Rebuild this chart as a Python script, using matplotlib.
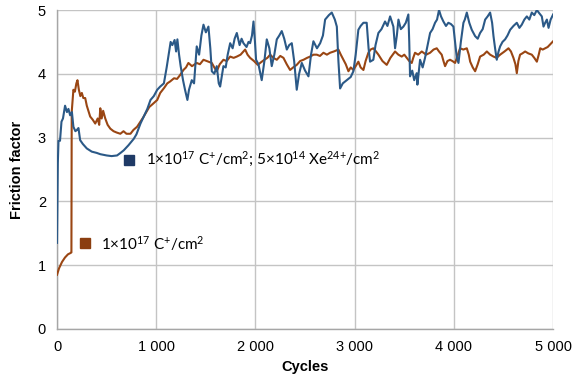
import matplotlib.pyplot as plt

plt.rcParams["font.family"] = ["Liberation Sans", "DejaVu Sans"]
plt.rcParams["mathtext.fontset"] = "custom"
plt.rcParams["mathtext.rm"] = "Lato"
plt.rcParams["mathtext.default"] = "regular"

# blue series: C+ and Xe24+ irradiation
xe_x = [0, 8, 15, 30, 45, 60, 81, 100, 115, 132, 150, 165, 185, 200, 216, 233, 260, 300, 350, 400,
        436, 500, 550, 605, 640, 672, 720, 773, 800, 841, 880, 910, 942, 975, 1010, 1040, 1077, 1105,
        1128, 1145, 1162, 1185, 1200, 1213, 1230, 1246, 1270, 1290, 1314, 1330, 1358, 1381, 1408, 1432,
        1455, 1476, 1500, 1526, 1545, 1560, 1585, 1610, 1630, 1644, 1660, 1677, 1700, 1720, 1745, 1770,
        1790, 1812, 1840, 1860, 1879, 1910, 1930, 1946, 1965, 1980, 1995, 2006, 2030, 2063, 2090, 2114,
        2140, 2164, 2190, 2215, 2240, 2265, 2290, 2316, 2340, 2366, 2390, 2416, 2440, 2467, 2500, 2534,
        2560, 2584, 2620, 2652, 2680, 2702, 2740, 2769, 2800, 2820, 2836, 2853, 2880, 2920, 2960, 2987,
        3010, 3037, 3060, 3088, 3121, 3140, 3155, 3188, 3210, 3239, 3270, 3306, 3330, 3357, 3390, 3407,
        3425, 3441, 3465, 3491, 3515, 3541, 3550, 3558, 3580, 3600, 3625, 3632, 3659, 3685, 3709, 3735,
        3760, 3785, 3810, 3830, 3850, 3870, 3894, 3920, 3944, 3970, 3995, 4012, 4029, 4046, 4070, 4096,
        4110, 4130, 4155, 4180, 4214, 4240, 4264, 4290, 4315, 4340, 4365, 4385, 4399, 4415, 4432, 4450,
        4466, 4490, 4516, 4540, 4567, 4600, 4634, 4660, 4684, 4710, 4735, 4760, 4785, 4810, 4836, 4860,
        4886, 4903, 4920, 4937, 4954, 4975, 5000]
xe_y = [1.35, 2.6, 2.95, 2.95, 3.25, 3.3, 3.5, 3.4, 3.45, 3.35, 3.4, 3.17, 3.1, 3.12, 3.15, 2.96, 2.9,
        2.83, 2.78, 2.76, 2.74, 2.72, 2.71, 2.72, 2.76, 2.8, 2.88, 2.98, 3.05, 3.22, 3.35, 3.45, 3.59,
        3.65, 3.75, 3.8, 3.85, 4.1, 4.33, 4.5, 4.45, 4.53, 4.35, 4.54, 4.3, 4.12, 3.9, 3.75, 3.59, 3.75,
        3.9, 3.85, 4.43, 4.3, 4.6, 4.77, 4.65, 4.74, 4.4, 4.04, 4.0, 4.12, 3.85, 3.8, 3.95, 4.12, 4.1,
        4.3, 4.48, 4.4, 4.55, 4.64, 4.45, 4.55, 4.48, 4.42, 4.5, 4.48, 4.6, 4.82, 4.5, 4.22, 4.15, 3.9,
        4.2, 4.54, 4.4, 4.12, 4.3, 4.54, 4.6, 4.67, 4.55, 4.38, 4.45, 4.48, 4.2, 3.75, 4.0, 4.17, 4.05,
        3.96, 4.3, 4.51, 4.4, 4.48, 4.6, 4.85, 4.92, 4.96, 4.85, 4.74, 4.2, 3.77, 3.85, 3.9, 3.95, 4.04,
        4.3, 4.69, 4.75, 4.8, 4.8, 4.4, 4.19, 4.22, 4.45, 4.64, 4.7, 4.82, 4.75, 4.9, 4.74, 4.4, 4.6,
        4.85, 4.7, 4.74, 4.8, 4.93, 4.5, 3.96, 4.05, 3.9, 4.01, 3.83, 4.22, 4.1, 4.25, 4.45, 4.64, 4.7,
        4.8, 4.85, 5.0, 4.9, 4.82, 4.75, 4.8, 4.78, 4.74, 4.5, 4.25, 4.17, 4.5, 4.8, 4.85, 4.96, 4.8,
        4.69, 4.59, 4.55, 4.64, 4.7, 4.85, 4.9, 4.96, 4.8, 4.59, 4.4, 4.22, 4.35, 4.43, 4.5, 4.54, 4.6,
        4.69, 4.75, 4.8, 4.72, 4.77, 4.85, 4.9, 4.85, 4.96, 4.92, 5.0, 4.95, 4.9, 4.74, 4.8, 4.85, 4.72,
        4.85, 4.93]

# brown series: C+ only
c_x = [0, 20, 50, 80, 110, 135, 145, 148, 155, 165, 180, 195, 206, 220, 235, 250, 265, 284, 300, 320,
       334, 360, 385, 410, 425, 436, 450, 465, 486, 510, 537, 570, 600, 638, 670, 700, 740, 770, 807,
       840, 870, 900, 930, 960, 1010, 1040, 1080, 1111, 1140, 1179, 1210, 1240, 1274, 1300, 1324, 1360,
       1408, 1440, 1476, 1510, 1560, 1585, 1610, 1640, 1677, 1710, 1745, 1780, 1812, 1850, 1896, 1920,
       1946, 1985, 2023, 2055, 2090, 2120, 2148, 2180, 2215, 2250, 2282, 2315, 2349, 2380, 2416, 2450,
       2484, 2520, 2551, 2585, 2618, 2650, 2685, 2720, 2752, 2790, 2836, 2860, 2887, 2910, 2937, 2960,
       2987, 3010, 3037, 3060, 3088, 3110, 3138, 3160, 3188, 3215, 3239, 3280, 3323, 3360, 3407, 3440,
       3474, 3500, 3525, 3550, 3575, 3590, 3608, 3640, 3676, 3720, 3760, 3795, 3827, 3850, 3877, 3895,
       3911, 3935, 3961, 3985, 4012, 4040, 4062, 4095, 4130, 4150, 4164, 4190, 4214, 4240, 4264, 4300,
       4332, 4365, 4399, 4430, 4466, 4510, 4550, 4575, 4600, 4620, 4634, 4650, 4667, 4690, 4718, 4750,
       4785, 4810, 4836, 4855, 4870, 4895, 4920, 4945, 4970, 5000]
c_y = [0.85, 0.95, 1.05, 1.12, 1.17, 1.19, 1.2, 3.4, 3.55, 3.75, 3.72, 3.85, 3.9, 3.75, 3.65, 3.7,
       3.62, 3.62, 3.5, 3.4, 3.33, 3.28, 3.22, 3.3, 3.2, 3.46, 3.3, 3.42, 3.3, 3.2, 3.14, 3.1, 3.08,
       3.06, 3.1, 3.06, 3.06, 3.12, 3.17, 3.25, 3.32, 3.4, 3.48, 3.52, 3.59, 3.7, 3.78, 3.85, 3.88,
       3.93, 3.92, 3.98, 4.06, 4.1, 4.17, 4.12, 4.17, 4.15, 4.22, 4.2, 4.17, 4.1, 4.04, 4.15, 4.22,
       4.2, 4.27, 4.25, 4.27, 4.3, 4.38, 4.3, 4.25, 4.2, 4.14, 4.18, 4.22, 4.25, 4.3, 4.25, 4.22, 4.28,
       4.25, 4.15, 4.06, 4.1, 4.14, 4.2, 4.22, 4.25, 4.27, 4.3, 4.3, 4.28, 4.33, 4.3, 4.33, 4.35, 4.38,
       4.3, 4.22, 4.15, 4.04, 4.1, 4.06, 4.12, 4.19, 4.1, 4.06, 4.2, 4.33, 4.38, 4.4, 4.35, 4.3, 4.2,
       4.14, 4.25, 4.35, 4.3, 4.27, 4.3, 4.25, 4.2, 4.17, 4.25, 4.33, 4.3, 4.35, 4.3, 4.33, 4.38, 4.4,
       4.35, 4.3, 4.2, 4.12, 4.2, 4.22, 4.2, 4.17, 4.3, 4.4, 4.38, 4.4, 4.3, 4.19, 4.1, 4.04, 4.15,
       4.27, 4.3, 4.35, 4.3, 4.27, 4.25, 4.3, 4.35, 4.4, 4.35, 4.25, 4.15, 4.01, 4.2, 4.3, 4.32, 4.35,
       4.32, 4.3, 4.25, 4.19, 4.3, 4.4, 4.38, 4.4, 4.42, 4.46, 4.51]

x_ticks = [0, 1000, 2000, 3000, 4000, 5000]
x_labels = ["0", "1 000", "2 000", "3 000", "4 000", "5 000"]
y_ticks = [0, 1, 2, 3, 4, 5]

label_xe = r"1×10$^{17}$ C$^{+}$/cm$^{2}$; 5×10$^{14}$ Xe$^{24{+}}$/cm$^{2}$"
label_c = r"1×10$^{17}$ C$^{+}$/cm$^{2}$"

blue = "#2B5987"
brown = "#9A4613"

fig = plt.figure(figsize=(5.72, 3.85), dpi=100)
ax = fig.add_axes([0.0997, 0.1455, 0.8673, 0.8285])

ax.plot(c_x, c_y, color=brown, lw=1.5, zorder=3)
ax.plot(xe_x, xe_y, color=blue, lw=1.5, zorder=4)

ax.set_xlim(0, 5000)
ax.set_ylim(0, 5)
ax.set_xticks(x_ticks)
ax.set_xticklabels(x_labels)
ax.set_yticks(y_ticks)
ax.grid(True, color="#C4C4C4", lw=1.0)
ax.set_axisbelow(True)
for s in ["top", "right"]:
    ax.spines[s].set_visible(False)
for s in ["left", "bottom"]:
    ax.spines[s].set_color("#A6A6A6")
    ax.spines[s].set_linewidth(1.0)
ax.tick_params(length=0, labelsize=10.5, pad=8, colors="black")

ax.set_xlabel("Cycles", fontsize=10.5, fontweight="bold", labelpad=4)
ax.set_ylabel("Friction factor", fontsize=10.5, fontweight="bold", labelpad=10)

# inline legend labels
ax.plot([730], [2.65], marker="s", ms=6.5, color="#1F3A66", ls="none", clip_on=False)
ax.text(900, 2.65, label_xe, fontsize=11, family="Lato", va="center")
ax.plot([280], [1.34], marker="s", ms=6.5, color="#8B3E10", ls="none", clip_on=False)
ax.text(440, 1.34, label_c, fontsize=11, family="Lato", va="center")

fig.savefig("out.png", dpi=100)
